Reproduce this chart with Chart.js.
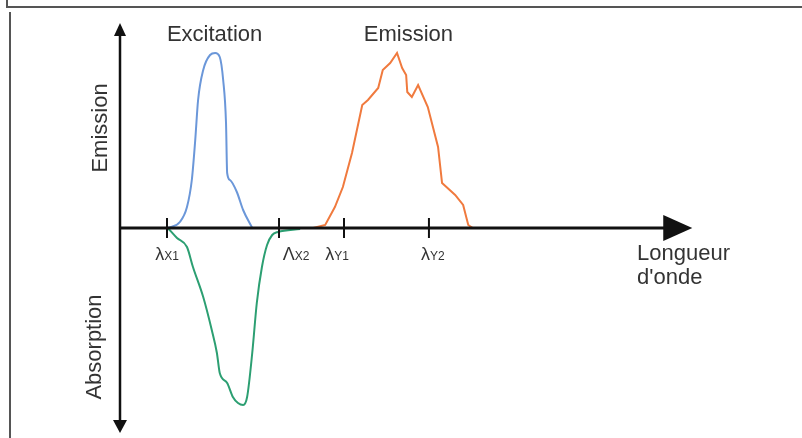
<!DOCTYPE html>
<html>
<head>
<meta charset="utf-8">
<script src="https://cdn.jsdelivr.net/npm/chart.js@4"></script>
<style>
  html,body{margin:0;padding:0;background:#fff;}
  canvas{display:block;}
</style>
</head>
<body>
<canvas id="c" width="802" height="438"></canvas>
<script>
// ---- Data (arbitrary wavelength units 0..100, intensity -1..1) ----
const seriesNames = ["Excitation", "Emission", "Absorption"];

const excitationX = [8.4, 10.5, 11.75, 12.6, 13.2, 13.7, 14.6, 15.8, 16.7, 17.5, 18.1, 18.6, 18.8, 19.3, 20.5, 21.6, 23.2];
const excitationY = [0, 0.03, 0.105, 0.24, 0.44, 0.64, 0.79, 0.865, 0.875, 0.855, 0.74, 0.525, 0.275, 0.24, 0.18, 0.09, 0];

const emissionX = [33.9, 36.0, 37.7, 39.1, 40.7, 42.5, 43.5, 45.3, 46.1, 47.4, 48.6, 49.5, 50.2, 50.4, 51.2, 52.3, 54.0, 55.8, 56.5, 58.8, 60.2, 61.1, 61.9, 66.1];
const emissionY = [0, 0.015, 0.105, 0.205, 0.375, 0.615, 0.64, 0.70, 0.79, 0.825, 0.875, 0.80, 0.765, 0.68, 0.655, 0.715, 0.605, 0.405, 0.225, 0.165, 0.115, 0.015, 0, 0];

const absorptionX = [8.4, 10.0, 11.75, 12.8, 14.6, 16.1, 17.0, 17.5, 18.8, 19.8, 20.7, 21.6, 22.3, 23.2, 24.0, 24.9, 25.8, 26.7, 27.7, 31.6];
const absorptionY = [0, -0.05, -0.095, -0.195, -0.345, -0.51, -0.625, -0.725, -0.775, -0.845, -0.875, -0.885, -0.845, -0.625, -0.375, -0.195, -0.085, -0.035, -0.02, -0.005];

const tickValues = [8.25, 27.9, 39.3, 54.2];
const tickMain = ["\u03bb", "\u039b", "\u03bb", "\u03bb"];
const tickSub = ["X1", "X2", "Y1", "Y2"];

const xAxisTitle = ["Longueur", "d'onde"];
const yAxisTitleUp = "Emission";
const yAxisTitleDown = "Absorption";

// ---- Build ----
const pts = (xs, ys) => xs.map((x, i) => ({x: x, y: ys[i]}));
const FONT = '"Liberation Sans", Arial, sans-serif';
const TXT = '#333333';

const overlay = {
  id: 'overlay',
  afterDraw(chart) {
    const ctx = chart.ctx;
    const xs = chart.scales.x, ys = chart.scales.y;
    const X = v => xs.getPixelForValue(v);
    const Y = v => ys.getPixelForValue(v);
    ctx.save();

    // frame lines
    ctx.strokeStyle = '#555';
    ctx.lineWidth = 2;
    ctx.beginPath();
    ctx.moveTo(7, 0); ctx.lineTo(7, 7); ctx.lineTo(802, 7);
    ctx.moveTo(10, 12); ctx.lineTo(10, 438);
    ctx.stroke();

    const x0 = X(0), y0 = Y(0);
    ctx.fillStyle = '#111';
    ctx.strokeStyle = '#111';

    // vertical axis
    ctx.lineWidth = 2.5;
    ctx.beginPath();
    ctx.moveTo(x0, Y(0.96)); ctx.lineTo(x0, Y(-0.96));
    ctx.stroke();
    const tipUp = Y(1.025), tipDn = Y(-1.025);
    ctx.beginPath();
    ctx.moveTo(x0, tipUp); ctx.lineTo(x0 - 6, tipUp + 13); ctx.lineTo(x0 + 6, tipUp + 13); ctx.closePath(); ctx.fill();
    ctx.beginPath();
    ctx.moveTo(x0, tipDn); ctx.lineTo(x0 - 7, tipDn - 13); ctx.lineTo(x0 + 7, tipDn - 13); ctx.closePath(); ctx.fill();

    // horizontal axis
    ctx.lineWidth = 3;
    ctx.beginPath();
    ctx.moveTo(x0, y0); ctx.lineTo(X(97), y0);
    ctx.stroke();
    const tipR = X(100.4);
    ctx.beginPath();
    ctx.moveTo(tipR, y0); ctx.lineTo(tipR - 29, y0 - 13); ctx.lineTo(tipR - 29, y0 + 13); ctx.closePath(); ctx.fill();

    // ticks
    ctx.lineWidth = 2;
    tickValues.forEach(v => {
      ctx.beginPath();
      ctx.moveTo(X(v), y0 - 10); ctx.lineTo(X(v), y0 + 10);
      ctx.stroke();
    });

    // tick labels
    ctx.fillStyle = TXT;
    ctx.textBaseline = 'alphabetic';
    const offs = [0, 17, -7, 4];
    tickValues.forEach((v, i) => {
      ctx.font = '18px ' + FONT;
      const w1 = ctx.measureText(tickMain[i]).width;
      ctx.font = '12px ' + FONT;
      const w2 = ctx.measureText(tickSub[i]).width;
      const left = X(v) - (w1 + w2) / 2 + offs[i];
      ctx.font = '18px ' + FONT;
      ctx.textAlign = 'left';
      ctx.fillText(tickMain[i], left, 260);
      ctx.font = '12px ' + FONT;
      ctx.fillText(tickSub[i], left + w1, 260);
    });

    // axis titles
    ctx.font = '22px ' + FONT;
    ctx.textAlign = 'left';
    ctx.fillText(xAxisTitle[0], 637, 260);
    ctx.fillText(xAxisTitle[1], 637, 284);

    ctx.textAlign = 'center';
    ctx.save();
    ctx.translate(107, 128);
    ctx.rotate(-Math.PI / 2);
    ctx.fillText(yAxisTitleUp, 0, 0);
    ctx.restore();
    ctx.save();
    ctx.translate(101, 347);
    ctx.rotate(-Math.PI / 2);
    ctx.fillText(yAxisTitleDown, 0, 0);
    ctx.restore();

    // series titles
    ctx.fillText(seriesNames[0], X(16.6), 41);
    ctx.fillText(seriesNames[1], X(50.6), 41);

    ctx.restore();
  }
};

new Chart(document.getElementById('c'), {
  type: 'line',
  data: {
    datasets: [
      {label: seriesNames[0], data: pts(excitationX, excitationY), borderColor: '#6b97d9', borderWidth: 2, pointRadius: 0, cubicInterpolationMode: 'monotone', fill: false},
      {label: seriesNames[1], data: pts(emissionX, emissionY), borderColor: '#f07a3e', borderWidth: 2, pointRadius: 0, tension: 0, fill: false},
      {label: seriesNames[2], data: pts(absorptionX, absorptionY), borderColor: '#2c9f72', borderWidth: 2, pointRadius: 0, cubicInterpolationMode: 'monotone', fill: false}
    ]
  },
  options: {
    responsive: false,
    animation: false,
    devicePixelRatio: 1,
    layout: {padding: {left: 120, right: 112, top: 28, bottom: 10}},
    plugins: {legend: {display: false}, tooltip: {enabled: false}, title: {display: false}},
    scales: {
      x: {type: 'linear', min: 0, max: 100, display: false},
      y: {type: 'linear', min: -1, max: 1, display: false}
    }
  },
  plugins: [overlay]
});
</script>
</body>
</html>
